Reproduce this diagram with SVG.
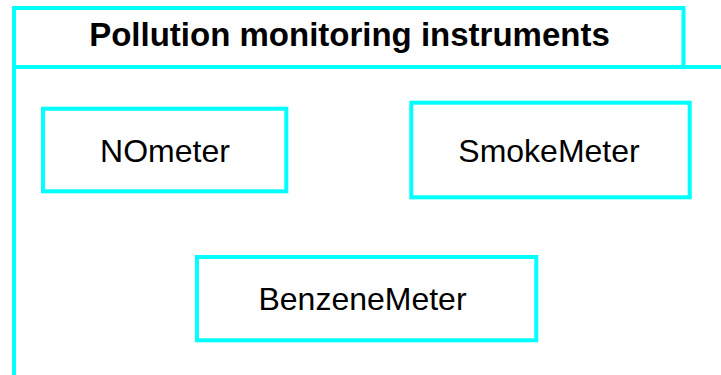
<svg xmlns="http://www.w3.org/2000/svg" width="721" height="375" viewBox="0 0 721 375">
<style>
.ln{fill:none;stroke:#00ffff;stroke-width:4}
.box{fill:#ffffff;stroke:#00ffff;stroke-width:4}
.lbl{font-family:"Liberation Sans",Arial,sans-serif;font-size:32px;fill:#000000;text-anchor:middle}
.ttl{font-family:"Liberation Sans",Arial,sans-serif;font-size:33px;font-weight:bold;fill:#000000;text-anchor:middle}
</style>
<rect width="721" height="375" fill="#ffffff"/>
<g id="package">
<path class="ln" d="M14,375 V8 H683.5 V67"/>
<path class="ln" d="M14,67 H721"/>
<text class="ttl" x="349.5" y="46">Pollution monitoring instruments</text>
</g>
<g id="NOmeter">
<rect class="box" x="43" y="108.7" width="243.3" height="82.6"/>
<text class="lbl" x="165" y="161.7">NOmeter</text>
</g>
<g id="SmokeMeter">
<rect class="box" x="411.3" y="102.7" width="278.4" height="94.6"/>
<text class="lbl" x="549" y="161.7">SmokeMeter</text>
</g>
<g id="BenzeneMeter">
<rect class="box" x="197" y="257" width="339.3" height="83.3"/>
<text class="lbl" x="362.5" y="310">BenzeneMeter</text>
</g>
<g id="connectors"></g>
</svg>
